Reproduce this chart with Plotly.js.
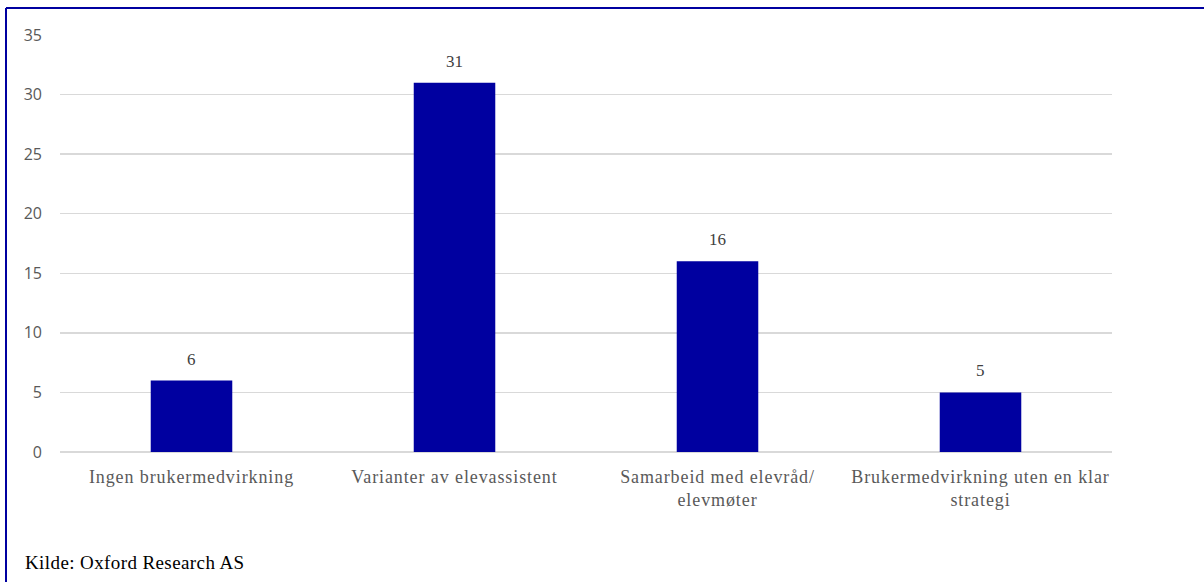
<!DOCTYPE html>
<html>
<head>
<meta charset="utf-8">
<script src="https://cdn.plot.ly/plotly-3.0.1.min.js"></script>
<style>
html,body{margin:0;padding:0;background:#fff;}
#chart{width:1204px;height:582px;}
#chart .xtick text{letter-spacing:0.9px;}
#chart .annotation-text.src{letter-spacing:0.4px;}
</style>
</head>
<body>
<div id="chart"></div>
<script>
var categories = ["Ingen brukermedvirkning", "Varianter av elevassistent", "Samarbeid med elevråd/<br>elevmøter", "Brukermedvirkning uten en klar<br>strategi"];
var values = [6, 31, 16, 5];
var yTicks = [0, 5, 10, 15, 20, 25, 30, 35];
var sourceText = "Kilde: Oxford Research AS";

var W = 1204, H = 582;
var L = 60, R = 92, T = 35, B = 130;
var pw = W - L - R, ph = H - T - B;
function px2x(p){ return (p - L) / pw; }
function py2y(p){ return (H - B - p) / ph; }

var trace = {
  type: 'bar',
  x: categories,
  y: values,
  marker: {color: '#0000A0'},
  hoverinfo: 'skip'
};

var annotations = categories.map(function(c, i){
  return {
    x: c, y: values[i], xref: 'x', yref: 'y',
    text: String(values[i]), showarrow: false,
    yanchor: 'bottom', yshift: 10,
    font: {family: 'Liberation Serif, Times New Roman, serif', size: 17, color: '#404040'}
  };
});
annotations.push({
  x: px2x(28), y: py2y(562), xref: 'paper', yref: 'paper',
  xanchor: 'left', yanchor: 'middle', showarrow: false,
  text: sourceText,
  font: {family: 'Liberation Serif, Times New Roman, serif', size: 19, color: '#000000'}
});

var layout = {
  width: W, height: H,
  margin: {l: L, r: R, t: T, b: B, pad: 0},
  paper_bgcolor: '#ffffff', plot_bgcolor: '#ffffff',
  showlegend: false,
  bargap: 0.69,
  xaxis: {
    type: 'category',
    showgrid: false, zeroline: false, showline: false,
    ticks: '', ticklen: 0, ticklabelstandoff: 12,
    tickfont: {family: 'Liberation Serif, Times New Roman, serif', size: 18, color: '#595959'},
    fixedrange: true
  },
  yaxis: {
    range: [0, 35],
    tickvals: yTicks,
    ticktext: yTicks.map(String),
    showgrid: true, gridcolor: '#d9d9d9', gridwidth: 1.5,
    zeroline: true, zerolinecolor: '#d9d9d9', zerolinewidth: 1.5,
    showline: false, ticks: '', ticklabelstandoff: 17,
    tickfont: {family: 'Open Sans, Liberation Sans, sans-serif', size: 16, color: '#595959'},
    fixedrange: true
  },
  annotations: annotations,
  shapes: [
    {type: 'line', xref: 'paper', yref: 'paper', x0: px2x(6), x1: px2x(1210), y0: py2y(8), y1: py2y(8), line: {color: '#0000A0', width: 2}},
    {type: 'line', xref: 'paper', yref: 'paper', x0: px2x(6), x1: px2x(6), y0: py2y(8), y1: py2y(600), line: {color: '#0000A0', width: 2}}
  ]
};

Plotly.newPlot('chart', [trace], layout, {staticPlot: true, displayModeBar: false}).then(function(){
  var a = document.querySelectorAll('#chart .annotation-text');
  if (a.length) a[a.length - 1].classList.add('src');
});
</script>
</body>
</html>
